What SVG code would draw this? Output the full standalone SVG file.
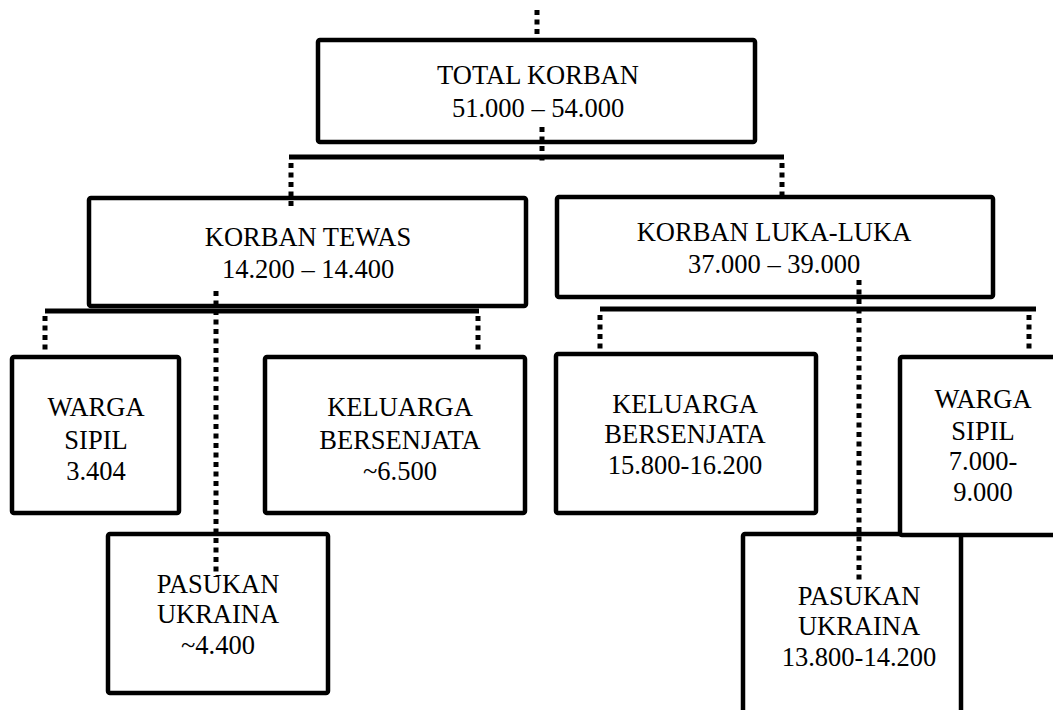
<svg xmlns="http://www.w3.org/2000/svg" width="1053" height="710" viewBox="0 0 1053 710">
<style>
.box{fill:#fff;stroke:#000;stroke-width:4.5;stroke-linejoin:round}
.bar{stroke:#000;stroke-width:5;fill:none}
.dot{stroke:#000;stroke-width:5;fill:none;stroke-dasharray:5 4.5}
text{font-family:"Liberation Serif","Times New Roman",serif;font-size:26.5px;fill:#000;text-anchor:middle}
</style>
<rect width="1053" height="710" fill="#fff"/>
<g id="n-total"><rect class="box" x="318" y="40" width="437" height="102" rx="2"/><text x="538" y="84">TOTAL KORBAN</text><text x="538" y="117">51.000 – 54.000</text></g>
<g id="n-tewas"><rect class="box" x="89" y="198" width="437" height="108" rx="2"/><text x="308" y="246">KORBAN TEWAS</text><text x="308" y="278">14.200 – 14.400</text></g>
<g id="n-luka"><rect class="box" x="557" y="197" width="436" height="100" rx="2"/><text x="774" y="241">KORBAN LUKA-LUKA</text><text x="774" y="273">37.000 – 39.000</text></g>
<g id="n-sipil1"><rect class="box" x="12" y="357" width="167" height="156" rx="2"/><text x="96" y="416">WARGA</text><text x="96" y="449">SIPIL</text><text x="96" y="480">3.404</text></g>
<g id="n-keluarga1"><rect class="box" x="265" y="357" width="260" height="156" rx="2"/><text x="400" y="416">KELUARGA</text><text x="400" y="449">BERSENJATA</text><text x="400" y="480">~6.500</text></g>
<g id="n-pasukan1"><rect class="box" x="108" y="534" width="220" height="159" rx="2"/><text x="218" y="593">PASUKAN</text><text x="218" y="623">UKRAINA</text><text x="218" y="654">~4.400</text></g>
<g id="n-keluarga2"><rect class="box" x="556" y="354" width="260" height="159" rx="2"/><text x="685" y="413">KELUARGA</text><text x="685" y="443">BERSENJATA</text><text x="685" y="474">15.800-16.200</text></g>
<g id="n-pasukan2"><rect class="box" x="743" y="534" width="218" height="200" rx="2"/><text x="859" y="605">PASUKAN</text><text x="859" y="635">UKRAINA</text><text x="859" y="666">13.800-14.200</text></g>
<g id="n-sipil2"><rect class="box" x="900" y="357" width="170" height="178" rx="2"/><text x="983" y="408">WARGA</text><text x="983" y="440">SIPIL</text><text x="983" y="470">7.000-</text><text x="983" y="501">9.000</text></g>
<g id="connectors">
<path class="dot" d="M537 10V38"/>
<path class="dot" d="M542 127V163"/>
<path class="bar" d="M289 157H784"/>
<path class="dot" d="M291 163V207"/>
<path class="dot" d="M782 163V200"/>
<path class="dot" d="M216 291V577"/>
<path class="bar" d="M45 311H479"/>
<path class="dot" d="M45 316V352"/>
<path class="dot" d="M478 316V352"/>
<path class="dot" d="M859 280V582"/>
<path class="bar" d="M600 309H1036"/>
<path class="dot" d="M600 315V350"/>
<path class="dot" d="M1029 315V350"/>
</g>
</svg>
